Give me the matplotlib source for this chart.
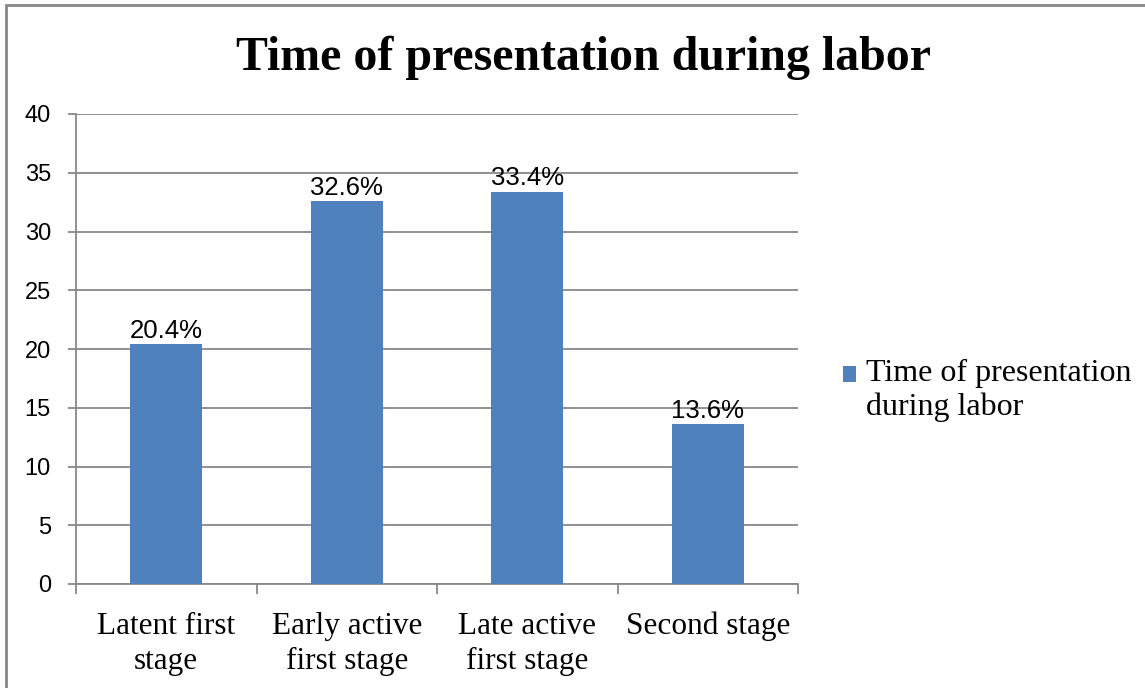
import matplotlib.pyplot as plt
from matplotlib.patches import Rectangle
import numpy as np

categories = ['Latent first\nstage', 'Early active\nfirst stage', 'Late active\nfirst stage', 'Second stage']
values = [20.4, 32.6, 33.4, 13.6]
labels = ['20.4%', '32.6%', '33.4%', '13.6%']
series_name = 'Time of presentation\nduring labor'
title = 'Time of presentation during labor'

W, H = 1145, 688
fig = plt.figure(figsize=(W / 100, H / 100), dpi=100)
ax = fig.add_axes([76 / W, 1 - 584 / H, (798 - 76) / W, (584 - 114) / H])

x = np.arange(len(categories))
bars = ax.bar(x, values, width=0.4, color='#4F81BD', label=series_name, zorder=3)

for b, lab in zip(bars, labels):
    ax.annotate(lab, (b.get_x() + b.get_width() / 2, b.get_height()),
                xytext=(0, 1), textcoords='offset points', ha='center', va='bottom',
                fontsize=18.5, family='Liberation Sans', zorder=4)

ax.set_xlim(-0.5, 3.5)
ax.set_ylim(0, 40)
ax.set_yticks(np.arange(0, 41, 5))
ax.grid(axis='y', color='#888888', lw=1.3, zorder=0)
ax.set_axisbelow(True)

ax.set_xticks(x)
ax.set_xticklabels(categories, family='Liberation Serif', fontsize=22.5, linespacing=1.3)
ax.tick_params(axis='x', which='major', length=0, pad=20)
ax.set_xticks(np.arange(-0.5, 4, 1), minor=True)
ax.tick_params(axis='x', which='minor', length=7.5, width=1.3, color='#888888', direction='out')
ax.tick_params(axis='y', length=6, width=1.3, color='#888888', pad=12)
for t in ax.get_yticklabels():
    t.set_family('Liberation Sans')
    t.set_fontsize(17)

for s in ['top', 'right']:
    ax.spines[s].set_visible(False)
for s in ['left', 'bottom']:
    ax.spines[s].set_color('#888888')
    ax.spines[s].set_linewidth(1.3)

fig.text(584 / W, 1 - 58 / H, title, ha='center', va='center',
         family='Liberation Serif', fontweight='bold', fontsize=34.5)

leg = ax.legend(loc='center left', bbox_to_anchor=(843 / W, 1 - 390 / H), bbox_transform=fig.transFigure,
                frameon=False, prop={'family': 'Liberation Serif', 'size': 23},
                handlelength=0.41, handleheight=0.41, handletextpad=0.3, borderaxespad=0, borderpad=0)
# push the square up to sit next to the first line, like the original
leg.legend_handles[0].set_y(leg.legend_handles[0].get_y() + 11)

fig.add_artist(Rectangle((6 / W, -0.1), 2, 1 - 5 / H + 0.1, transform=fig.transFigure,
                         fill=False, edgecolor='#888888', lw=2, clip_on=False))

fig.savefig('out.png', dpi=100)
